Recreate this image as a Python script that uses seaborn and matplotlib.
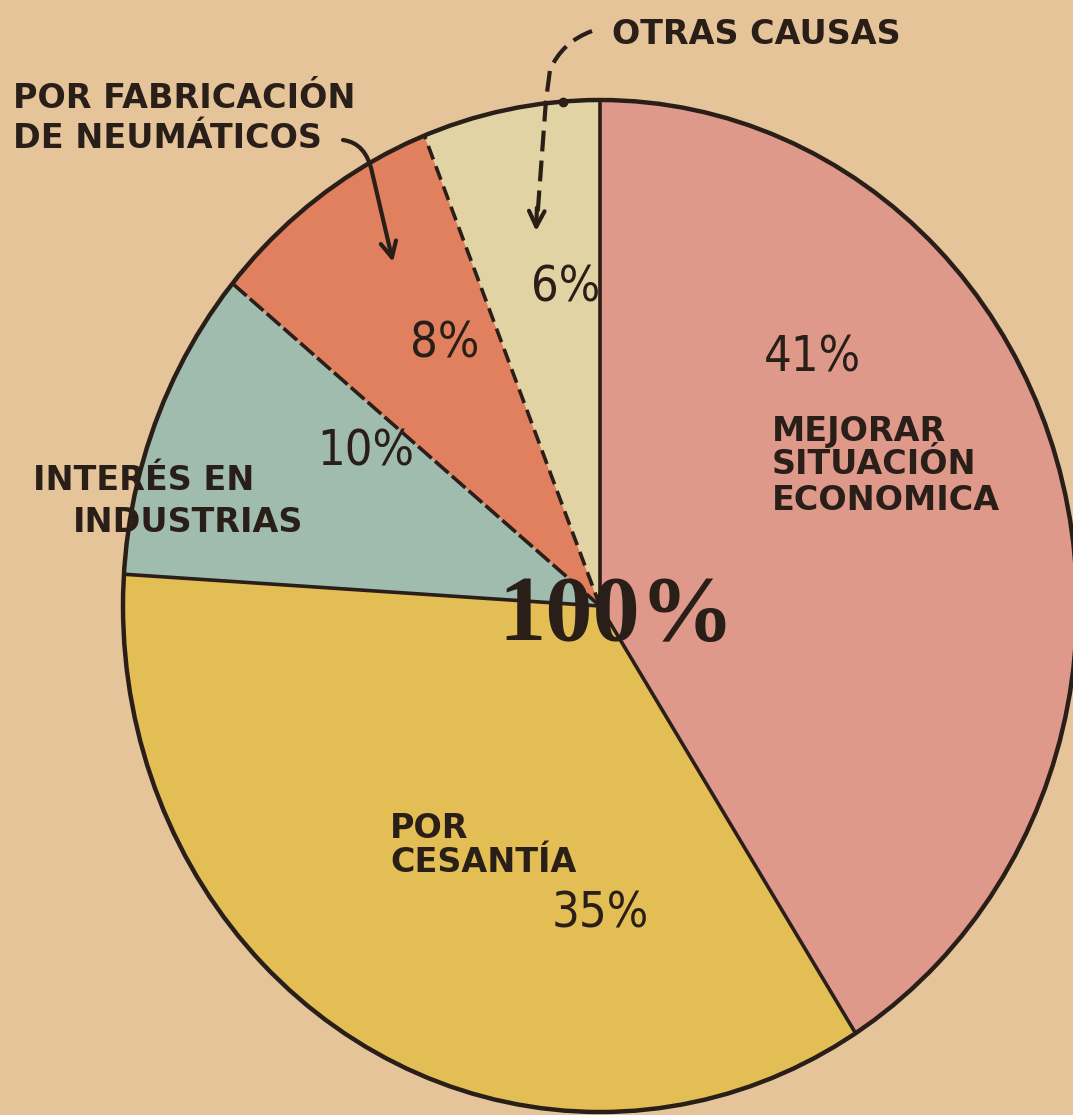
import numpy as np
import matplotlib
matplotlib.use("Agg")
import matplotlib.pyplot as plt
import seaborn as sns
from matplotlib.patches import Ellipse, PathPatch, FancyArrowPatch
from matplotlib.path import Path

# data (clockwise from 12 o'clock)
causas = ["MEJORAR SITUACIÓN ECONOMICA", "POR CESANTÍA", "INTERÉS EN INDUSTRIAS",
          "POR FABRICACIÓN DE NEUMÁTICOS", "OTRAS CAUSAS"]
porcentajes = [41, 35, 10, 8, 6]
etiquetas_pct = ["41%", "35%", "10%", "8%", "6%"]
total_txt = "100%"

# styles
colores = ["#DE998A", "#E2BE55", "#A0BCAF", "#E0805E", "#E1D3A3"]
borde_inicio = ["-", "-", "-", (0, (5, 1.2)), (0, (4, 2))]  # radial line at start of each slice
papel = "#E5C49A"
tinta = "#2A1E18"

W, H = 1073, 1115
sns.set_theme(style="white")
fig = plt.figure(figsize=(W / 100, H / 100), dpi=100)
fig.patch.set_facecolor(papel)

# pie axes spans the (slightly elliptical) disc
cx, cy, rx, ry = 600, 606, 477, 506
ax = fig.add_axes([(cx - rx) / W, (H - cy - ry) / H, 2 * rx / W, 2 * ry / H])
ax.pie(porcentajes, colors=sns.color_palette(colores), startangle=90, counterclock=False,
       radius=1, wedgeprops=dict(linewidth=0))
ax.set_aspect("auto")
ax.set_xlim(-1, 1)
ax.set_ylim(-1, 1)
ax.axis("off")

acum = np.concatenate([[0], np.cumsum(porcentajes)[:-1]])
for c, ls in zip(acum, borde_inicio):
    th = np.deg2rad(90 - 360 * c / sum(porcentajes))
    ax.plot([0, np.cos(th)], [0, np.sin(th)], color=tinta, lw=2.6, ls=ls,
            solid_capstyle="butt", clip_on=False)
ax.add_patch(Ellipse((0, 0), 2, 2, fill=False, ec=tinta, lw=3.2, clip_on=False))

# overlay in pixel coordinates for labels and arrows
ov = fig.add_axes([0, 0, 1, 1])
ov.set_xlim(0, W)
ov.set_ylim(H, 0)
ov.axis("off")

lab = dict(fontsize=24, fontweight="bold", color=tinta, family="DejaVu Sans", va="center")
ov.text(612, 34, causas[4], ha="left", **lab)
ov.text(13, 99, "POR FABRICACIÓN", ha="left", **lab)
ov.text(13, 138, "DE NEUMÁTICOS", ha="left", **lab)
ov.text(33, 480, "INTERÉS EN", ha="left", **lab)
ov.text(73, 523, "INDUSTRIAS", ha="left", **lab)
ov.text(772, 431, "MEJORAR", ha="left", **lab)
ov.text(772, 465, "SITUACIÓN", ha="left", **lab)
ov.text(772, 501, "ECONOMICA", ha="left", **lab)
ov.text(390, 828, "POR", ha="left", **lab)
ov.text(390, 862, "CESANTÍA", ha="left", **lab)

pct = dict(fontsize=35, color=tinta, family="DejaVu Sans", fontstretch="condensed",
           va="center", ha="center")
pos_pct = [(812, 358), (600, 913), (366, 452), (445, 343), (566, 287)]
for t, (x, y) in zip(etiquetas_pct, pos_pct):
    ov.text(x, y, t, **pct)

ov.text(617, 618, total_txt, fontsize=68, fontweight="bold", color=tinta,
        family="Liberation Serif", ha="center", va="center")

# arrow from "OTRAS CAUSAS" (dashed)
p1 = Path([(592, 31), (562, 42), (550, 70), (546, 100), (537, 222)],
          [Path.MOVETO, Path.CURVE3, Path.CURVE3, Path.LINETO, Path.LINETO])
ov.add_patch(PathPatch(p1, fill=False, ec=tinta, lw=3, ls=(0, (5, 2.2))))
ov.annotate("", xy=(536, 234), xytext=(537, 205),
            arrowprops=dict(arrowstyle="->", color=tinta, lw=3, mutation_scale=28))
ov.plot([563], [102], "o", color=tinta, ms=6)

# arrow from "DE NEUMÁTICOS"
p2 = Path([(343, 140), (366, 143), (372, 172), (393, 262)],
          [Path.MOVETO, Path.CURVE3, Path.CURVE3, Path.LINETO])
ov.add_patch(FancyArrowPatch(path=p2, arrowstyle="->", color=tinta, lw=3, mutation_scale=28))

fig.savefig("out.png", dpi=100, facecolor=papel)
